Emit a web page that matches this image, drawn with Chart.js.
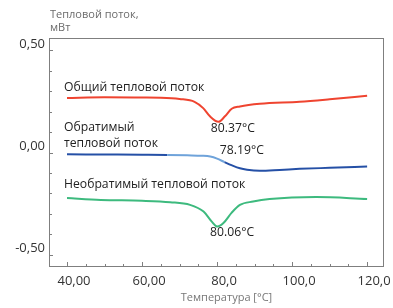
<!DOCTYPE html>
<html>
<head>
<meta charset="utf-8">
<script src="https://cdn.jsdelivr.net/npm/chart.js@4.4.1/dist/chart.umd.min.js"></script>
<style>
  html, body { margin: 0; padding: 0; background: #fff; }
  #wrap { width: 393px; height: 308px; }
</style>
</head>
<body>
<div id="wrap"><canvas id="c"></canvas></div>
<script>
// temperatures (°C) and heat flow (mW)
const totalT  = [40, 50, 60, 65, 70, 74, 76.3, 78.1, 80.37, 82.1, 83.9, 86.1, 91.4, 102, 110, 120];
const totalHF = [0.267, 0.270, 0.269, 0.268, 0.262, 0.248, 0.217, 0.177, 0.150, 0.177, 0.214, 0.225, 0.238, 0.248, 0.260, 0.277];

const revT  = [40, 50, 60, 66.7, 72, 76, 78.19, 80, 82, 84, 86.1, 88, 91.4, 96.7, 102, 110, 120];
const revHF = [-0.009, -0.010, -0.011, -0.012, -0.014, -0.016, -0.020, -0.030, -0.047, -0.063, -0.077, -0.084, -0.089, -0.085, -0.080, -0.075, -0.069];

const nonT  = [40, 49, 60, 67.5, 72.8, 76.4, 78.6, 80.06, 81.7, 83.9, 86.1, 89.6, 94, 106.4, 120];
const nonHF = [-0.223, -0.232, -0.236, -0.243, -0.256, -0.289, -0.338, -0.362, -0.345, -0.294, -0.256, -0.240, -0.228, -0.218, -0.227];

const xTickValues = [40, 60, 80, 100, 120];
const xTickLabels = ['40,00', '60,00', '80,0', '100,0', '120,0'];
const yTickValues = [-0.5, 0, 0.5];
const yTickLabels = ['-0,50', '0,00', '0,50'];

const notes = [
  { text: 'Общий тепловой поток', x: 39.2, y: 0.32, align: 'left' },
  { text: 'Обратимый', x: 39.2, y: 0.124, align: 'left' },
  { text: 'тепловой поток', x: 39.2, y: 0.046, align: 'left' },
  { text: 'Необратимый тепловой поток', x: 39.2, y: -0.159, align: 'left' },
  { text: '80.37°C', x: 84.2, y: 0.117, align: 'center' },
  { text: '78.19°C', x: 86.6, y: 0.012, align: 'center' },
  { text: '80.06°C', x: 84.0, y: -0.393, align: 'center' }
];

function pts(xs, ys) {
  return xs.map((v, i) => ({ x: v, y: ys[i] }));
}

const FONT = '"Open Sans", "Noto Sans", sans-serif';

const frame = {
  id: 'frame',
  afterDraw(chart) {
    const { ctx, chartArea: a, scales: { x, y } } = chart;
    ctx.save();
    ctx.strokeStyle = '#7f7f7f';
    ctx.lineWidth = 1;
    ctx.strokeRect(a.left + 0.5, a.top + 0.5, a.right - a.left - 1, a.bottom - a.top - 1);

    // small inward ticks
    ctx.beginPath();
    x.ticks.forEach(t => {
      const v = Math.round(t.value);
      const px = Math.round(x.getPixelForValue(v)) + 0.5;
      const len = v % 20 === 0 ? 4 : 2;
      ctx.moveTo(px, a.bottom - 1);
      ctx.lineTo(px, a.bottom - 1 - len);
    });
    y.ticks.forEach(t => {
      const v = Math.round(t.value * 10);
      const py = Math.round(y.getPixelForValue(v / 10)) + 0.5;
      const len = v % 5 === 0 ? 3 : 2;
      ctx.moveTo(a.left + 1, py);
      ctx.lineTo(a.left + 1 + len, py);
    });
    ctx.stroke();

    // y axis caption at top
    ctx.fillStyle = '#6b6b6b';
    ctx.font = '11px ' + FONT;
    ctx.textAlign = 'left';
    ctx.textBaseline = 'middle';
    ctx.fillText('Тепловой поток,', a.left + 1, 15);
    ctx.fillText('мВт', a.left + 1, 28);

    // x axis caption
    ctx.fillStyle = '#777';
    ctx.textAlign = 'center';
    ctx.fillText('Температура [°C]', (a.left + a.right) / 2 + 10, 298);

    // curve labels
    ctx.fillStyle = '#222';
    ctx.font = '12.2px ' + FONT;
    notes.forEach(n => {
      ctx.textAlign = n.align;
      ctx.fillText(n.text, x.getPixelForValue(n.x), y.getPixelForValue(n.y));
    });
    ctx.restore();
  }
};

const lightBlue = '#6fa3da';
const darkBlue = '#2550a6';

new Chart(document.getElementById('c'), {
  type: 'line',
  data: {
    datasets: [
      { label: 'Общий тепловой поток', data: pts(totalT, totalHF), borderColor: '#ef4430', borderWidth: 2 },
      {
        label: 'Обратимый тепловой поток', data: pts(revT, revHF), borderColor: darkBlue, borderWidth: 2,
        segment: {
          borderColor: c => (c.p0.parsed.x >= 66 && c.p1.parsed.x <= 82.1) ? lightBlue : darkBlue
        }
      },
      { label: 'Необратимый тепловой поток', data: pts(nonT, nonHF), borderColor: '#3dba7e', borderWidth: 2 }
    ]
  },
  options: {
    responsive: true,
    maintainAspectRatio: false,
    animation: false,
    layout: { padding: { top: 38, right: 9, left: 0, bottom: 0 } },
    elements: {
      point: { radius: 0 },
      line: { cubicInterpolationMode: 'monotone', fill: false }
    },
    plugins: {
      legend: { display: false },
      tooltip: { enabled: false }
    },
    scales: {
      x: {
        type: 'linear',
        min: 35.2,
        max: 124.5,
        grid: { display: false, drawTicks: false },
        border: { display: false },
        afterBuildTicks: s => {
          const t = [];
          for (let v = 40; v <= 120; v += 5) t.push({ value: v });
          s.ticks = t;
        },
        ticks: {
          autoSkip: false,
          maxRotation: 0,
          labelOffset: 7,
          padding: 6,
          color: '#333',
          font: { family: FONT, size: 13 },
          callback: v => {
            const i = xTickValues.indexOf(Math.round(v));
            return i >= 0 ? xTickLabels[i] : '';
          }
        },
        afterFit: s => { s.height = 41; s.paddingLeft = 0; s.paddingRight = 0; }
      },
      y: {
        min: -0.56,
        max: 0.56,
        grid: { display: false, drawTicks: false },
        border: { display: false },
        afterBuildTicks: s => {
          const t = [];
          for (let k = -5; k <= 5; k++) t.push({ value: k / 10 });
          s.ticks = t;
        },
        ticks: {
          autoSkip: false,
          labelOffset: -6,
          padding: 4,
          color: '#333',
          font: { family: FONT, size: 13 },
          callback: v => {
            const i = yTickValues.indexOf(Math.round(v * 10) / 10);
            return i >= 0 ? yTickLabels[i] : '';
          }
        },
        afterFit: s => { s.width = 49; }
      }
    }
  },
  plugins: [frame]
});
</script>
</body>
</html>
